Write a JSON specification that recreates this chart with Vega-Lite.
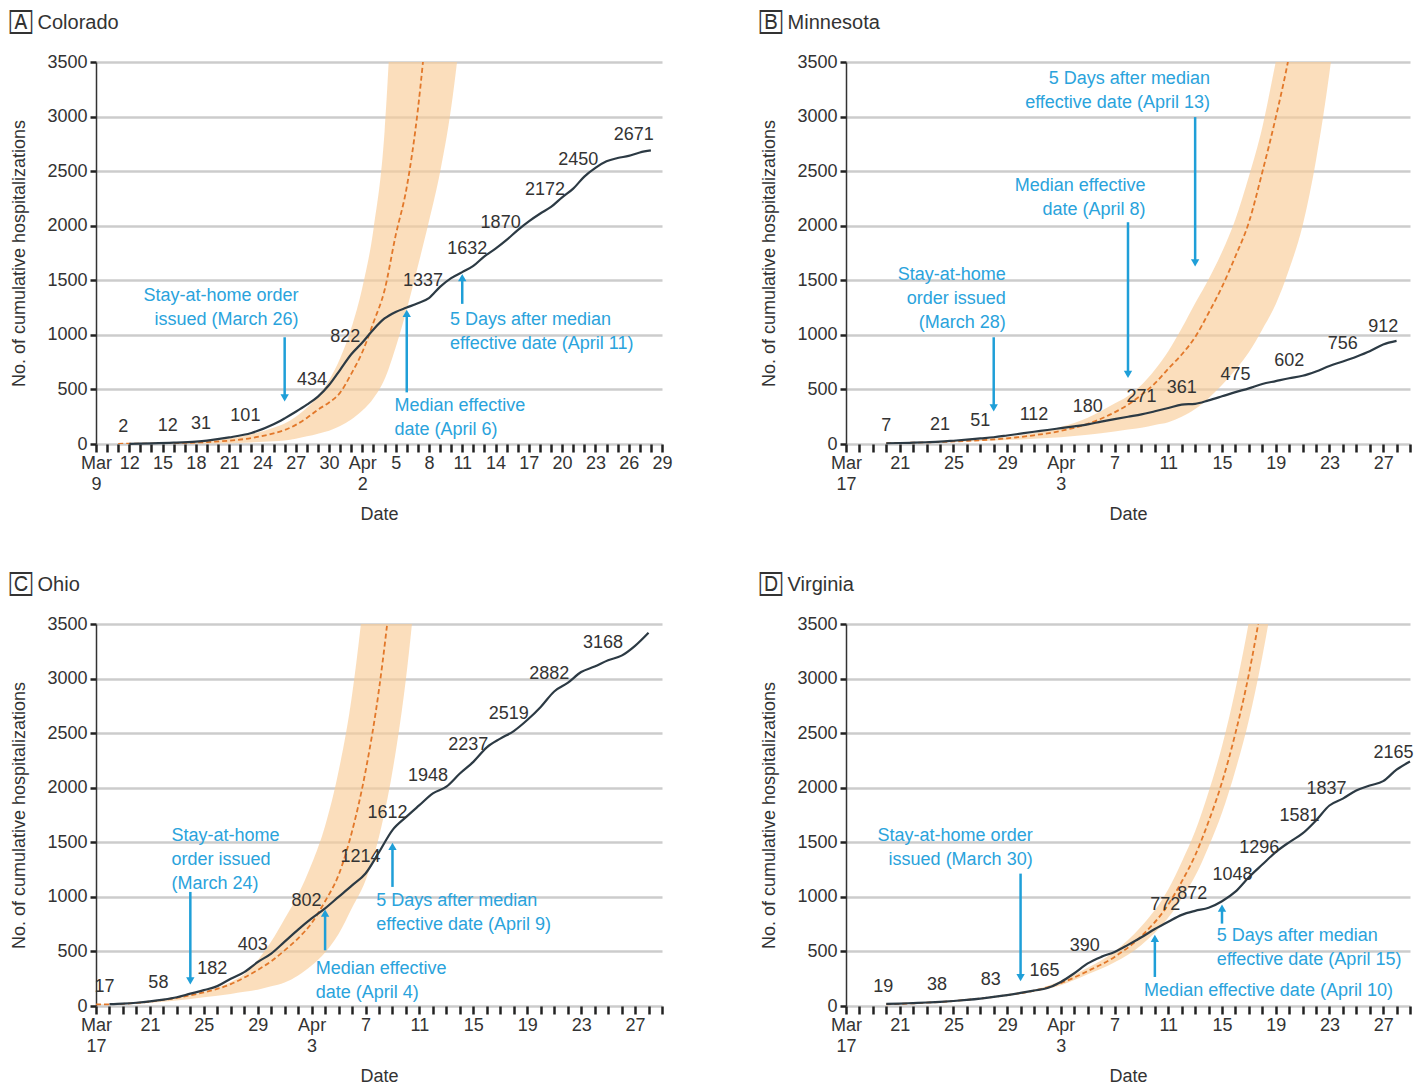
{
  "$schema": "https://vega.github.io/schema/vega-lite/v6.json",
  "background": "white",
  "padding": {"left": 10, "top": 13, "right": 5, "bottom": 5},
  "config": {
    "font": "Liberation Sans",
    "numberFormat": "d",
    "view": {"stroke": null},
    "axis": {"labelFontSize": 18, "titleFontSize": 18, "titleFontWeight": "normal", "labelColor": "#333333", "titleColor": "#333333"},
    "axisX": {"grid": false, "domain": false, "tickSize": 8, "tickWidth": 2.5, "tickColor": "#222222", "labelPadding": 2, "labelLineHeight": 21, "labelOverlap": false, "labelFlush": false, "labelBound": false, "titlePadding": 12},
    "axisY": {"tickCount": 8, "grid": true, "gridColor": "#cccccc", "gridWidth": 2.5, "domainColor": "#333333", "domainWidth": 1.5, "tickSize": 6, "tickWidth": 2.5, "tickColor": "#222222", "labelPadding": 3, "titlePadding": 18},
    "title": {"fontSize": 20, "fontWeight": "normal", "anchor": "start", "frame": "group", "dx": -86, "offset": 20, "color": "#333333"}
  },
  "datasets": {
    "observed": [
      {"state": "Colorado", "day": 3, "count": 2, "labeled": true},
      {"state": "Colorado", "day": 5, "count": 6, "labeled": false},
      {"state": "Colorado", "day": 7, "count": 12, "labeled": true},
      {"state": "Colorado", "day": 9, "count": 22, "labeled": false},
      {"state": "Colorado", "day": 10, "count": 31, "labeled": true},
      {"state": "Colorado", "day": 12, "count": 60, "labeled": false},
      {"state": "Colorado", "day": 14, "count": 101, "labeled": true},
      {"state": "Colorado", "day": 16, "count": 180, "labeled": false},
      {"state": "Colorado", "day": 17, "count": 235, "labeled": false},
      {"state": "Colorado", "day": 18, "count": 295, "labeled": false},
      {"state": "Colorado", "day": 19, "count": 360, "labeled": false},
      {"state": "Colorado", "day": 20, "count": 434, "labeled": true},
      {"state": "Colorado", "day": 21, "count": 540, "labeled": false},
      {"state": "Colorado", "day": 22, "count": 680, "labeled": false},
      {"state": "Colorado", "day": 23, "count": 822, "labeled": true},
      {"state": "Colorado", "day": 24, "count": 930, "labeled": false},
      {"state": "Colorado", "day": 25, "count": 1050, "labeled": false},
      {"state": "Colorado", "day": 26, "count": 1150, "labeled": false},
      {"state": "Colorado", "day": 27, "count": 1210, "labeled": false},
      {"state": "Colorado", "day": 28, "count": 1250, "labeled": false},
      {"state": "Colorado", "day": 29, "count": 1290, "labeled": false},
      {"state": "Colorado", "day": 30, "count": 1337, "labeled": true},
      {"state": "Colorado", "day": 31, "count": 1440, "labeled": false},
      {"state": "Colorado", "day": 32, "count": 1520, "labeled": false},
      {"state": "Colorado", "day": 33, "count": 1575, "labeled": false},
      {"state": "Colorado", "day": 34, "count": 1632, "labeled": true},
      {"state": "Colorado", "day": 35, "count": 1720, "labeled": false},
      {"state": "Colorado", "day": 36, "count": 1790, "labeled": false},
      {"state": "Colorado", "day": 37, "count": 1870, "labeled": true},
      {"state": "Colorado", "day": 38, "count": 1960, "labeled": false},
      {"state": "Colorado", "day": 39, "count": 2040, "labeled": false},
      {"state": "Colorado", "day": 40, "count": 2110, "labeled": false},
      {"state": "Colorado", "day": 41, "count": 2172, "labeled": true},
      {"state": "Colorado", "day": 42, "count": 2260, "labeled": false},
      {"state": "Colorado", "day": 43, "count": 2340, "labeled": false},
      {"state": "Colorado", "day": 44, "count": 2450, "labeled": true},
      {"state": "Colorado", "day": 45, "count": 2530, "labeled": false},
      {"state": "Colorado", "day": 46, "count": 2590, "labeled": false},
      {"state": "Colorado", "day": 47, "count": 2620, "labeled": false},
      {"state": "Colorado", "day": 48, "count": 2640, "labeled": false},
      {"state": "Colorado", "day": 49, "count": 2671, "labeled": true},
      {"state": "Colorado", "day": 50, "count": 2690, "labeled": false},

      {"state": "Minnesota", "day": 3, "count": 7, "labeled": true},
      {"state": "Minnesota", "day": 4, "count": 9, "labeled": false},
      {"state": "Minnesota", "day": 5, "count": 12, "labeled": false},
      {"state": "Minnesota", "day": 6, "count": 16, "labeled": false},
      {"state": "Minnesota", "day": 7, "count": 21, "labeled": true},
      {"state": "Minnesota", "day": 8, "count": 30, "labeled": false},
      {"state": "Minnesota", "day": 9, "count": 40, "labeled": false},
      {"state": "Minnesota", "day": 10, "count": 51, "labeled": true},
      {"state": "Minnesota", "day": 11, "count": 62, "labeled": false},
      {"state": "Minnesota", "day": 12, "count": 78, "labeled": false},
      {"state": "Minnesota", "day": 13, "count": 95, "labeled": false},
      {"state": "Minnesota", "day": 14, "count": 112, "labeled": true},
      {"state": "Minnesota", "day": 15, "count": 128, "labeled": false},
      {"state": "Minnesota", "day": 16, "count": 145, "labeled": false},
      {"state": "Minnesota", "day": 17, "count": 162, "labeled": false},
      {"state": "Minnesota", "day": 18, "count": 180, "labeled": true},
      {"state": "Minnesota", "day": 19, "count": 205, "labeled": false},
      {"state": "Minnesota", "day": 20, "count": 228, "labeled": false},
      {"state": "Minnesota", "day": 21, "count": 250, "labeled": false},
      {"state": "Minnesota", "day": 22, "count": 271, "labeled": true},
      {"state": "Minnesota", "day": 23, "count": 300, "labeled": false},
      {"state": "Minnesota", "day": 24, "count": 330, "labeled": false},
      {"state": "Minnesota", "day": 25, "count": 361, "labeled": true},
      {"state": "Minnesota", "day": 26, "count": 368, "labeled": false},
      {"state": "Minnesota", "day": 27, "count": 400, "labeled": false},
      {"state": "Minnesota", "day": 28, "count": 437, "labeled": false},
      {"state": "Minnesota", "day": 29, "count": 475, "labeled": true},
      {"state": "Minnesota", "day": 30, "count": 510, "labeled": false},
      {"state": "Minnesota", "day": 31, "count": 550, "labeled": false},
      {"state": "Minnesota", "day": 32, "count": 576, "labeled": false},
      {"state": "Minnesota", "day": 33, "count": 602, "labeled": true},
      {"state": "Minnesota", "day": 34, "count": 625, "labeled": false},
      {"state": "Minnesota", "day": 35, "count": 665, "labeled": false},
      {"state": "Minnesota", "day": 36, "count": 715, "labeled": false},
      {"state": "Minnesota", "day": 37, "count": 756, "labeled": true},
      {"state": "Minnesota", "day": 38, "count": 800, "labeled": false},
      {"state": "Minnesota", "day": 39, "count": 850, "labeled": false},
      {"state": "Minnesota", "day": 40, "count": 912, "labeled": true},
      {"state": "Minnesota", "day": 41, "count": 945, "labeled": false},

      {"state": "Ohio", "day": 1, "count": 17, "labeled": true},
      {"state": "Ohio", "day": 2, "count": 22, "labeled": false},
      {"state": "Ohio", "day": 3, "count": 30, "labeled": false},
      {"state": "Ohio", "day": 4, "count": 42, "labeled": false},
      {"state": "Ohio", "day": 5, "count": 58, "labeled": true},
      {"state": "Ohio", "day": 6, "count": 80, "labeled": false},
      {"state": "Ohio", "day": 7, "count": 113, "labeled": false},
      {"state": "Ohio", "day": 8, "count": 145, "labeled": false},
      {"state": "Ohio", "day": 9, "count": 182, "labeled": true},
      {"state": "Ohio", "day": 10, "count": 250, "labeled": false},
      {"state": "Ohio", "day": 11, "count": 310, "labeled": false},
      {"state": "Ohio", "day": 12, "count": 403, "labeled": true},
      {"state": "Ohio", "day": 13, "count": 480, "labeled": false},
      {"state": "Ohio", "day": 14, "count": 590, "labeled": false},
      {"state": "Ohio", "day": 15, "count": 700, "labeled": false},
      {"state": "Ohio", "day": 16, "count": 802, "labeled": true},
      {"state": "Ohio", "day": 17, "count": 895, "labeled": false},
      {"state": "Ohio", "day": 18, "count": 1000, "labeled": false},
      {"state": "Ohio", "day": 19, "count": 1105, "labeled": false},
      {"state": "Ohio", "day": 20, "count": 1214, "labeled": true},
      {"state": "Ohio", "day": 21, "count": 1410, "labeled": false},
      {"state": "Ohio", "day": 22, "count": 1612, "labeled": true},
      {"state": "Ohio", "day": 23, "count": 1730, "labeled": false},
      {"state": "Ohio", "day": 24, "count": 1840, "labeled": false},
      {"state": "Ohio", "day": 25, "count": 1948, "labeled": true},
      {"state": "Ohio", "day": 26, "count": 2010, "labeled": false},
      {"state": "Ohio", "day": 27, "count": 2130, "labeled": false},
      {"state": "Ohio", "day": 28, "count": 2237, "labeled": true},
      {"state": "Ohio", "day": 29, "count": 2370, "labeled": false},
      {"state": "Ohio", "day": 30, "count": 2450, "labeled": false},
      {"state": "Ohio", "day": 31, "count": 2519, "labeled": true},
      {"state": "Ohio", "day": 32, "count": 2620, "labeled": false},
      {"state": "Ohio", "day": 33, "count": 2740, "labeled": false},
      {"state": "Ohio", "day": 34, "count": 2882, "labeled": true},
      {"state": "Ohio", "day": 35, "count": 2960, "labeled": false},
      {"state": "Ohio", "day": 36, "count": 3060, "labeled": false},
      {"state": "Ohio", "day": 37, "count": 3110, "labeled": false},
      {"state": "Ohio", "day": 38, "count": 3168, "labeled": true},
      {"state": "Ohio", "day": 39, "count": 3210, "labeled": false},
      {"state": "Ohio", "day": 40, "count": 3300, "labeled": false},
      {"state": "Ohio", "day": 41, "count": 3420, "labeled": false},

      {"state": "Virginia", "day": 3, "count": 19, "labeled": true},
      {"state": "Virginia", "day": 4, "count": 22, "labeled": false},
      {"state": "Virginia", "day": 5, "count": 27, "labeled": false},
      {"state": "Virginia", "day": 6, "count": 32, "labeled": false},
      {"state": "Virginia", "day": 7, "count": 38, "labeled": true},
      {"state": "Virginia", "day": 8, "count": 46, "labeled": false},
      {"state": "Virginia", "day": 9, "count": 56, "labeled": false},
      {"state": "Virginia", "day": 10, "count": 68, "labeled": false},
      {"state": "Virginia", "day": 11, "count": 83, "labeled": true},
      {"state": "Virginia", "day": 12, "count": 100, "labeled": false},
      {"state": "Virginia", "day": 13, "count": 120, "labeled": false},
      {"state": "Virginia", "day": 14, "count": 142, "labeled": false},
      {"state": "Virginia", "day": 15, "count": 165, "labeled": true},
      {"state": "Virginia", "day": 16, "count": 220, "labeled": false},
      {"state": "Virginia", "day": 17, "count": 300, "labeled": false},
      {"state": "Virginia", "day": 18, "count": 390, "labeled": true},
      {"state": "Virginia", "day": 19, "count": 450, "labeled": false},
      {"state": "Virginia", "day": 20, "count": 495, "labeled": false},
      {"state": "Virginia", "day": 21, "count": 560, "labeled": false},
      {"state": "Virginia", "day": 22, "count": 630, "labeled": false},
      {"state": "Virginia", "day": 23, "count": 705, "labeled": false},
      {"state": "Virginia", "day": 24, "count": 772, "labeled": true},
      {"state": "Virginia", "day": 25, "count": 835, "labeled": false},
      {"state": "Virginia", "day": 26, "count": 872, "labeled": true},
      {"state": "Virginia", "day": 27, "count": 900, "labeled": false},
      {"state": "Virginia", "day": 28, "count": 960, "labeled": false},
      {"state": "Virginia", "day": 29, "count": 1048, "labeled": true},
      {"state": "Virginia", "day": 30, "count": 1180, "labeled": false},
      {"state": "Virginia", "day": 31, "count": 1296, "labeled": true},
      {"state": "Virginia", "day": 32, "count": 1410, "labeled": false},
      {"state": "Virginia", "day": 33, "count": 1500, "labeled": false},
      {"state": "Virginia", "day": 34, "count": 1581, "labeled": true},
      {"state": "Virginia", "day": 35, "count": 1700, "labeled": false},
      {"state": "Virginia", "day": 36, "count": 1837, "labeled": true},
      {"state": "Virginia", "day": 37, "count": 1900, "labeled": false},
      {"state": "Virginia", "day": 38, "count": 1975, "labeled": false},
      {"state": "Virginia", "day": 39, "count": 2020, "labeled": false},
      {"state": "Virginia", "day": 40, "count": 2060, "labeled": false},
      {"state": "Virginia", "day": 41, "count": 2165, "labeled": true},
      {"state": "Virginia", "day": 42, "count": 2240, "labeled": false}
    ],
    "projection": [
      {"state": "Colorado", "day": 2, "lo": 0, "mid": 2, "hi": 3},
      {"state": "Colorado", "day": 6, "lo": 1, "mid": 6, "hi": 9},
      {"state": "Colorado", "day": 10, "lo": 4, "mid": 18, "hi": 28},
      {"state": "Colorado", "day": 14, "lo": 14, "mid": 55, "hi": 90},
      {"state": "Colorado", "day": 16, "lo": 25, "mid": 98, "hi": 150},
      {"state": "Colorado", "day": 17, "lo": 33, "mid": 128, "hi": 187},
      {"state": "Colorado", "day": 18, "lo": 49, "mid": 175, "hi": 249},
      {"state": "Colorado", "day": 19, "lo": 70, "mid": 239, "hi": 331},
      {"state": "Colorado", "day": 20, "lo": 95, "mid": 315, "hi": 440},
      {"state": "Colorado", "day": 21, "lo": 122, "mid": 380, "hi": 585},
      {"state": "Colorado", "day": 22, "lo": 164, "mid": 471, "hi": 785},
      {"state": "Colorado", "day": 23, "lo": 224, "mid": 643, "hi": 1060},
      {"state": "Colorado", "day": 24, "lo": 306, "mid": 843, "hi": 1435},
      {"state": "Colorado", "day": 25, "lo": 419, "mid": 1113, "hi": 1965},
      {"state": "Colorado", "day": 26, "lo": 593, "mid": 1409, "hi": 2860},
      {"state": "Colorado", "day": 27, "lo": 885, "mid": 1911, "hi": 4870},
      {"state": "Colorado", "day": 28, "lo": 1232, "mid": 2353, "hi": 7500},
      {"state": "Colorado", "day": 29, "lo": 1628, "mid": 3061, "hi": 11000},
      {"state": "Colorado", "day": 30, "lo": 2040, "mid": 4096, "hi": 16000},
      {"state": "Colorado", "day": 31, "lo": 2490, "mid": 5400, "hi": 23000},
      {"state": "Colorado", "day": 32, "lo": 3080, "mid": 7000, "hi": 33000},
      {"state": "Colorado", "day": 33, "lo": 3930, "mid": 9200, "hi": 47000},
      {"state": "Colorado", "day": 34, "lo": 5000, "mid": 12000, "hi": 66000},

      {"state": "Minnesota", "day": 3, "lo": 6, "mid": 8, "hi": 9},
      {"state": "Minnesota", "day": 6, "lo": 12, "mid": 15, "hi": 17},
      {"state": "Minnesota", "day": 9, "lo": 22, "mid": 28, "hi": 33},
      {"state": "Minnesota", "day": 12, "lo": 36, "mid": 52, "hi": 64},
      {"state": "Minnesota", "day": 14, "lo": 48, "mid": 80, "hi": 100},
      {"state": "Minnesota", "day": 16, "lo": 62, "mid": 120, "hi": 155},
      {"state": "Minnesota", "day": 18, "lo": 85, "mid": 185, "hi": 240},
      {"state": "Minnesota", "day": 20, "lo": 115, "mid": 290, "hi": 370},
      {"state": "Minnesota", "day": 21, "lo": 132, "mid": 360, "hi": 440},
      {"state": "Minnesota", "day": 22, "lo": 150, "mid": 450, "hi": 540},
      {"state": "Minnesota", "day": 23, "lo": 175, "mid": 555, "hi": 680},
      {"state": "Minnesota", "day": 24, "lo": 200, "mid": 690, "hi": 850},
      {"state": "Minnesota", "day": 25, "lo": 250, "mid": 820, "hi": 1060},
      {"state": "Minnesota", "day": 26, "lo": 320, "mid": 980, "hi": 1290},
      {"state": "Minnesota", "day": 27, "lo": 420, "mid": 1200, "hi": 1510},
      {"state": "Minnesota", "day": 28, "lo": 540, "mid": 1440, "hi": 1760},
      {"state": "Minnesota", "day": 29, "lo": 680, "mid": 1720, "hi": 2060},
      {"state": "Minnesota", "day": 30, "lo": 840, "mid": 2030, "hi": 2450},
      {"state": "Minnesota", "day": 31, "lo": 1050, "mid": 2490, "hi": 2900},
      {"state": "Minnesota", "day": 32, "lo": 1280, "mid": 2990, "hi": 3500},
      {"state": "Minnesota", "day": 33, "lo": 1600, "mid": 3560, "hi": 4100},
      {"state": "Minnesota", "day": 34, "lo": 2000, "mid": 4300, "hi": 4900},
      {"state": "Minnesota", "day": 35, "lo": 2600, "mid": 5200, "hi": 5800},
      {"state": "Minnesota", "day": 36, "lo": 3400, "mid": 6300, "hi": 7000},
      {"state": "Minnesota", "day": 37, "lo": 4400, "mid": 7600, "hi": 8300},

      {"state": "Ohio", "day": 0, "lo": 10, "mid": 14, "hi": 15},
      {"state": "Ohio", "day": 2, "lo": 15, "mid": 20, "hi": 25},
      {"state": "Ohio", "day": 4, "lo": 30, "mid": 40, "hi": 45},
      {"state": "Ohio", "day": 6, "lo": 50, "mid": 75, "hi": 80},
      {"state": "Ohio", "day": 8, "lo": 80, "mid": 125, "hi": 130},
      {"state": "Ohio", "day": 10, "lo": 110, "mid": 200, "hi": 220},
      {"state": "Ohio", "day": 11, "lo": 130, "mid": 260, "hi": 290},
      {"state": "Ohio", "day": 12, "lo": 150, "mid": 330, "hi": 420},
      {"state": "Ohio", "day": 13, "lo": 180, "mid": 410, "hi": 590},
      {"state": "Ohio", "day": 14, "lo": 215, "mid": 510, "hi": 800},
      {"state": "Ohio", "day": 15, "lo": 280, "mid": 620, "hi": 1020},
      {"state": "Ohio", "day": 16, "lo": 370, "mid": 760, "hi": 1300},
      {"state": "Ohio", "day": 17, "lo": 490, "mid": 960, "hi": 1650},
      {"state": "Ohio", "day": 18, "lo": 660, "mid": 1200, "hi": 2150},
      {"state": "Ohio", "day": 19, "lo": 900, "mid": 1600, "hi": 2850},
      {"state": "Ohio", "day": 20, "lo": 1150, "mid": 2150, "hi": 3900},
      {"state": "Ohio", "day": 21, "lo": 1550, "mid": 2900, "hi": 5300},
      {"state": "Ohio", "day": 22, "lo": 2150, "mid": 3950, "hi": 7000},
      {"state": "Ohio", "day": 23, "lo": 3000, "mid": 5300, "hi": 9000},
      {"state": "Ohio", "day": 24, "lo": 4200, "mid": 7000, "hi": 12000},

      {"state": "Virginia", "day": 3, "lo": 15, "mid": 16, "hi": 17},
      {"state": "Virginia", "day": 6, "lo": 28, "mid": 30, "hi": 32},
      {"state": "Virginia", "day": 9, "lo": 52, "mid": 56, "hi": 60},
      {"state": "Virginia", "day": 12, "lo": 92, "mid": 100, "hi": 108},
      {"state": "Virginia", "day": 14, "lo": 130, "mid": 140, "hi": 150},
      {"state": "Virginia", "day": 16, "lo": 190, "mid": 210, "hi": 230},
      {"state": "Virginia", "day": 18, "lo": 290, "mid": 320, "hi": 350},
      {"state": "Virginia", "day": 20, "lo": 400, "mid": 450, "hi": 500},
      {"state": "Virginia", "day": 22, "lo": 560, "mid": 640, "hi": 730},
      {"state": "Virginia", "day": 24, "lo": 810, "mid": 930, "hi": 1070},
      {"state": "Virginia", "day": 25, "lo": 985, "mid": 1140, "hi": 1320},
      {"state": "Virginia", "day": 26, "lo": 1190, "mid": 1380, "hi": 1600},
      {"state": "Virginia", "day": 27, "lo": 1460, "mid": 1690, "hi": 1960},
      {"state": "Virginia", "day": 28, "lo": 1770, "mid": 2050, "hi": 2380},
      {"state": "Virginia", "day": 29, "lo": 2160, "mid": 2500, "hi": 2900},
      {"state": "Virginia", "day": 30, "lo": 2620, "mid": 3040, "hi": 3520},
      {"state": "Virginia", "day": 31, "lo": 3200, "mid": 3720, "hi": 4300},
      {"state": "Virginia", "day": 32, "lo": 3900, "mid": 4500, "hi": 5200}
    ],
    "arrows": [
      {"state": "Colorado", "day": 17, "start": 978, "head": 422, "dir": "down"},
      {"state": "Colorado", "day": 28, "start": 473, "head": 1197, "dir": "up"},
      {"state": "Colorado", "day": 33, "start": 1284, "head": 1524, "dir": "up"},
      {"state": "Minnesota", "day": 11, "start": 978, "head": 331, "dir": "down"},
      {"state": "Minnesota", "day": 21, "start": 2032, "head": 637, "dir": "down"},
      {"state": "Minnesota", "day": 26, "start": 2995, "head": 1660, "dir": "down"},
      {"state": "Ohio", "day": 7, "start": 1045, "head": 231, "dir": "down"},
      {"state": "Ohio", "day": 17, "start": 510, "head": 851, "dir": "up"},
      {"state": "Ohio", "day": 22, "start": 1091, "head": 1462, "dir": "up"},
      {"state": "Virginia", "day": 13, "start": 1213, "head": 261, "dir": "down"},
      {"state": "Virginia", "day": 23, "start": 266, "head": 620, "dir": "up"},
      {"state": "Virginia", "day": 28, "start": 755, "head": 897, "dir": "up"}
    ],
    "notes": [
      {"state": "Colorado", "day": 18.25, "count": 1309, "anchor": "end", "note": "Stay-at-home order\nissued (March 26)"},
      {"state": "Colorado", "day": 26.9, "count": 301, "anchor": "start", "note": "Median effective\ndate (April 6)"},
      {"state": "Colorado", "day": 31.9, "count": 1089, "anchor": "start", "note": "5 Days after median\neffective date (April 11)"},
      {"state": "Minnesota", "day": 11.9, "count": 1502, "anchor": "end", "note": "Stay-at-home\norder issued\n(March 28)"},
      {"state": "Minnesota", "day": 22.3, "count": 2318, "anchor": "end", "note": "Median effective\ndate (April 8)"},
      {"state": "Minnesota", "day": 27.1, "count": 3299, "anchor": "end", "note": "5 Days after median\neffective date (April 13)"},
      {"state": "Ohio", "day": 5.6, "count": 1514, "anchor": "start", "note": "Stay-at-home\norder issued\n(March 24)"},
      {"state": "Ohio", "day": 16.3, "count": 295, "anchor": "start", "note": "Median effective\ndate (April 4)"},
      {"state": "Ohio", "day": 20.8, "count": 918, "anchor": "start", "note": "5 Days after median\neffective date (April 9)"},
      {"state": "Virginia", "day": 13.9, "count": 1514, "anchor": "end", "note": "Stay-at-home order\nissued (March 30)"},
      {"state": "Virginia", "day": 22.2, "count": 93, "anchor": "start", "note": "Median effective date (April 10)"},
      {"state": "Virginia", "day": 27.6, "count": 597, "anchor": "start", "note": "5 Days after median\neffective date (April 15)"}
    ]
  },
  "columns": 2,
  "bounds": "flush",
  "spacing": {"row": 180, "column": 184},
  "resolve": {"scale": {"x": "independent", "y": "independent"}},
  "concat": [
    {
      "width": 566,
      "height": 382,
      "title": {"text": "\ud83c\udd30  Colorado"},
      "encoding": {
        "x": {
          "field": "day", "type": "quantitative",
          "scale": {"domain": [0, 51], "nice": false, "zero": false},
          "axis": {
            "title": "Date",
            "values": [0,1,2,3,4,5,6,7,8,9,10,11,12,13,14,15,16,17,18,19,20,21,22,23,24,25,26,27,28,29,30,31,32,33,34,35,36,37,38,39,40,41,42,43,44,45,46,47,48,49,50,51],
            "labelExpr": "datum.value % 3 ? '' : datum.value == 0 ? ['Mar', '9'] : datum.value == 24 ? ['Apr', '2'] : '' + (datum.value < 24 ? datum.value + 9 : datum.value - 22)"
          }
        }
      },
      "layer": [
        {"data": {"name": "projection"}, "transform": [{"filter": "datum.state === 'Colorado'"}],
         "mark": {"type": "area", "clip": true, "interpolate": "monotone", "color": "#f9cd98", "opacity": 0.65},
         "encoding": {"y": {"field": "hi", "type": "quantitative", "scale": {"domain": [0, 3500], "nice": false}, "title": "No. of cumulative hospitalizations"}, "y2": {"field": "lo"}}},
        {"data": {"name": "projection"}, "transform": [{"filter": "datum.state === 'Colorado'"}],
         "mark": {"type": "line", "clip": true, "interpolate": "monotone", "color": "#e2782a", "strokeWidth": 1.8, "strokeDash": [5, 3]},
         "encoding": {"y": {"field": "mid", "type": "quantitative", "title": "No. of cumulative hospitalizations"}}},
        {"data": {"name": "observed"}, "transform": [{"filter": "datum.state === 'Colorado'"}],
         "mark": {"type": "line", "interpolate": "monotone", "color": "#2c3a44", "strokeWidth": 2.2},
         "encoding": {"y": {"field": "count", "type": "quantitative", "title": "No. of cumulative hospitalizations"}}},
        {"data": {"name": "observed"}, "transform": [{"filter": "datum.state === 'Colorado' && datum.labeled"}],
         "mark": {"type": "text", "dx": -6, "dy": -17, "fontSize": 18, "color": "#333333"},
         "encoding": {"y": {"field": "count", "type": "quantitative", "title": "No. of cumulative hospitalizations"}, "text": {"field": "count", "type": "quantitative", "format": "d"}}},
        {"data": {"name": "arrows"}, "transform": [{"filter": "datum.state === 'Colorado'"}],
         "mark": {"type": "rule", "color": "#1f9fd8", "strokeWidth": 2.5},
         "encoding": {"y": {"field": "start", "type": "quantitative", "title": "No. of cumulative hospitalizations"}, "y2": {"field": "head"}}},
        {"data": {"name": "arrows"}, "transform": [{"filter": "datum.state === 'Colorado'"}],
         "mark": {"type": "point", "filled": true, "opacity": 1, "color": "#1f9fd8", "size": 70},
         "encoding": {"y": {"field": "head", "type": "quantitative", "title": "No. of cumulative hospitalizations"}, "shape": {"field": "dir", "type": "nominal", "scale": {"domain": ["down", "up"], "range": ["triangle-down", "triangle-up"]}, "legend": null}}},
        {"data": {"name": "notes"}, "transform": [{"filter": "datum.state === 'Colorado' && datum.anchor === 'start'"}],
         "mark": {"type": "text", "align": "left", "baseline": "alphabetic", "lineBreak": "\n", "lineHeight": 24, "fontSize": 18, "color": "#2aa3dc"},
         "encoding": {"y": {"field": "count", "type": "quantitative", "title": "No. of cumulative hospitalizations"}, "text": {"field": "note"}}},
        {"data": {"name": "notes"}, "transform": [{"filter": "datum.state === 'Colorado' && datum.anchor === 'end'"}],
         "mark": {"type": "text", "align": "right", "baseline": "alphabetic", "lineBreak": "\n", "lineHeight": 24, "fontSize": 18, "color": "#2aa3dc"},
         "encoding": {"y": {"field": "count", "type": "quantitative", "title": "No. of cumulative hospitalizations"}, "text": {"field": "note"}}}
      ]
    },
    {
      "width": 564,
      "height": 382,
      "title": {"text": "\ud83c\udd31  Minnesota"},
      "encoding": {
        "x": {
          "field": "day", "type": "quantitative",
          "scale": {"domain": [0, 42], "nice": false, "zero": false},
          "axis": {
            "title": "Date",
            "values": [0,1,2,3,4,5,6,7,8,9,10,11,12,13,14,15,16,17,18,19,20,21,22,23,24,25,26,27,28,29,30,31,32,33,34,35,36,37,38,39,40,41,42],
            "labelExpr": "datum.value % 4 ? '' : datum.value == 0 ? ['Mar', '17'] : datum.value == 16 ? ['Apr', '3'] : '' + (datum.value < 16 ? datum.value + 17 : datum.value - 13)"
          }
        }
      },
      "layer": [
        {"data": {"name": "projection"}, "transform": [{"filter": "datum.state === 'Minnesota'"}],
         "mark": {"type": "area", "clip": true, "interpolate": "monotone", "color": "#f9cd98", "opacity": 0.65},
         "encoding": {"y": {"field": "hi", "type": "quantitative", "scale": {"domain": [0, 3500], "nice": false}, "title": "No. of cumulative hospitalizations"}, "y2": {"field": "lo"}}},
        {"data": {"name": "projection"}, "transform": [{"filter": "datum.state === 'Minnesota'"}],
         "mark": {"type": "line", "clip": true, "interpolate": "monotone", "color": "#e2782a", "strokeWidth": 1.8, "strokeDash": [5, 3]},
         "encoding": {"y": {"field": "mid", "type": "quantitative", "title": "No. of cumulative hospitalizations"}}},
        {"data": {"name": "observed"}, "transform": [{"filter": "datum.state === 'Minnesota'"}],
         "mark": {"type": "line", "interpolate": "monotone", "color": "#2c3a44", "strokeWidth": 2.2},
         "encoding": {"y": {"field": "count", "type": "quantitative", "title": "No. of cumulative hospitalizations"}}},
        {"data": {"name": "observed"}, "transform": [{"filter": "datum.state === 'Minnesota' && datum.labeled"}],
         "mark": {"type": "text", "dx": 0, "dy": -17, "fontSize": 18, "color": "#333333"},
         "encoding": {"y": {"field": "count", "type": "quantitative", "title": "No. of cumulative hospitalizations"}, "text": {"field": "count", "type": "quantitative", "format": "d"}}},
        {"data": {"name": "arrows"}, "transform": [{"filter": "datum.state === 'Minnesota'"}],
         "mark": {"type": "rule", "color": "#1f9fd8", "strokeWidth": 2.5},
         "encoding": {"y": {"field": "start", "type": "quantitative", "title": "No. of cumulative hospitalizations"}, "y2": {"field": "head"}}},
        {"data": {"name": "arrows"}, "transform": [{"filter": "datum.state === 'Minnesota'"}],
         "mark": {"type": "point", "filled": true, "opacity": 1, "color": "#1f9fd8", "size": 70},
         "encoding": {"y": {"field": "head", "type": "quantitative", "title": "No. of cumulative hospitalizations"}, "shape": {"field": "dir", "type": "nominal", "scale": {"domain": ["down", "up"], "range": ["triangle-down", "triangle-up"]}, "legend": null}}},
        {"data": {"name": "notes"}, "transform": [{"filter": "datum.state === 'Minnesota' && datum.anchor === 'start'"}],
         "mark": {"type": "text", "align": "left", "baseline": "alphabetic", "lineBreak": "\n", "lineHeight": 24, "fontSize": 18, "color": "#2aa3dc"},
         "encoding": {"y": {"field": "count", "type": "quantitative", "title": "No. of cumulative hospitalizations"}, "text": {"field": "note"}}},
        {"data": {"name": "notes"}, "transform": [{"filter": "datum.state === 'Minnesota' && datum.anchor === 'end'"}],
         "mark": {"type": "text", "align": "right", "baseline": "alphabetic", "lineBreak": "\n", "lineHeight": 24, "fontSize": 18, "color": "#2aa3dc"},
         "encoding": {"y": {"field": "count", "type": "quantitative", "title": "No. of cumulative hospitalizations"}, "text": {"field": "note"}}}
      ]
    },
    {
      "width": 566,
      "height": 382,
      "title": {"text": "\ud83c\udd32  Ohio"},
      "encoding": {
        "x": {
          "field": "day", "type": "quantitative",
          "scale": {"domain": [0, 42], "nice": false, "zero": false},
          "axis": {
            "title": "Date",
            "values": [0,1,2,3,4,5,6,7,8,9,10,11,12,13,14,15,16,17,18,19,20,21,22,23,24,25,26,27,28,29,30,31,32,33,34,35,36,37,38,39,40,41,42],
            "labelExpr": "datum.value % 4 ? '' : datum.value == 0 ? ['Mar', '17'] : datum.value == 16 ? ['Apr', '3'] : '' + (datum.value < 16 ? datum.value + 17 : datum.value - 13)"
          }
        }
      },
      "layer": [
        {"data": {"name": "projection"}, "transform": [{"filter": "datum.state === 'Ohio'"}],
         "mark": {"type": "area", "clip": true, "interpolate": "monotone", "color": "#f9cd98", "opacity": 0.65},
         "encoding": {"y": {"field": "hi", "type": "quantitative", "scale": {"domain": [0, 3500], "nice": false}, "title": "No. of cumulative hospitalizations"}, "y2": {"field": "lo"}}},
        {"data": {"name": "projection"}, "transform": [{"filter": "datum.state === 'Ohio'"}],
         "mark": {"type": "line", "clip": true, "interpolate": "monotone", "color": "#e2782a", "strokeWidth": 1.8, "strokeDash": [5, 3]},
         "encoding": {"y": {"field": "mid", "type": "quantitative", "title": "No. of cumulative hospitalizations"}}},
        {"data": {"name": "observed"}, "transform": [{"filter": "datum.state === 'Ohio'"}],
         "mark": {"type": "line", "interpolate": "monotone", "color": "#2c3a44", "strokeWidth": 2.2},
         "encoding": {"y": {"field": "count", "type": "quantitative", "title": "No. of cumulative hospitalizations"}}},
        {"data": {"name": "observed"}, "transform": [{"filter": "datum.state === 'Ohio' && datum.labeled"}],
         "mark": {"type": "text", "dx": -5, "dy": -17, "fontSize": 18, "color": "#333333"},
         "encoding": {"y": {"field": "count", "type": "quantitative", "title": "No. of cumulative hospitalizations"}, "text": {"field": "count", "type": "quantitative", "format": "d"}}},
        {"data": {"name": "arrows"}, "transform": [{"filter": "datum.state === 'Ohio'"}],
         "mark": {"type": "rule", "color": "#1f9fd8", "strokeWidth": 2.5},
         "encoding": {"y": {"field": "start", "type": "quantitative", "title": "No. of cumulative hospitalizations"}, "y2": {"field": "head"}}},
        {"data": {"name": "arrows"}, "transform": [{"filter": "datum.state === 'Ohio'"}],
         "mark": {"type": "point", "filled": true, "opacity": 1, "color": "#1f9fd8", "size": 70},
         "encoding": {"y": {"field": "head", "type": "quantitative", "title": "No. of cumulative hospitalizations"}, "shape": {"field": "dir", "type": "nominal", "scale": {"domain": ["down", "up"], "range": ["triangle-down", "triangle-up"]}, "legend": null}}},
        {"data": {"name": "notes"}, "transform": [{"filter": "datum.state === 'Ohio' && datum.anchor === 'start'"}],
         "mark": {"type": "text", "align": "left", "baseline": "alphabetic", "lineBreak": "\n", "lineHeight": 24, "fontSize": 18, "color": "#2aa3dc"},
         "encoding": {"y": {"field": "count", "type": "quantitative", "title": "No. of cumulative hospitalizations"}, "text": {"field": "note"}}},
        {"data": {"name": "notes"}, "transform": [{"filter": "datum.state === 'Ohio' && datum.anchor === 'end'"}],
         "mark": {"type": "text", "align": "right", "baseline": "alphabetic", "lineBreak": "\n", "lineHeight": 24, "fontSize": 18, "color": "#2aa3dc"},
         "encoding": {"y": {"field": "count", "type": "quantitative", "title": "No. of cumulative hospitalizations"}, "text": {"field": "note"}}}
      ]
    },
    {
      "width": 564,
      "height": 382,
      "title": {"text": "\ud83c\udd33  Virginia"},
      "encoding": {
        "x": {
          "field": "day", "type": "quantitative",
          "scale": {"domain": [0, 42], "nice": false, "zero": false},
          "axis": {
            "title": "Date",
            "values": [0,1,2,3,4,5,6,7,8,9,10,11,12,13,14,15,16,17,18,19,20,21,22,23,24,25,26,27,28,29,30,31,32,33,34,35,36,37,38,39,40,41,42],
            "labelExpr": "datum.value % 4 ? '' : datum.value == 0 ? ['Mar', '17'] : datum.value == 16 ? ['Apr', '3'] : '' + (datum.value < 16 ? datum.value + 17 : datum.value - 13)"
          }
        }
      },
      "layer": [
        {"data": {"name": "projection"}, "transform": [{"filter": "datum.state === 'Virginia'"}],
         "mark": {"type": "area", "clip": true, "interpolate": "monotone", "color": "#f9cd98", "opacity": 0.65},
         "encoding": {"y": {"field": "hi", "type": "quantitative", "scale": {"domain": [0, 3500], "nice": false}, "title": "No. of cumulative hospitalizations"}, "y2": {"field": "lo"}}},
        {"data": {"name": "projection"}, "transform": [{"filter": "datum.state === 'Virginia'"}],
         "mark": {"type": "line", "clip": true, "interpolate": "monotone", "color": "#e2782a", "strokeWidth": 1.8, "strokeDash": [5, 3]},
         "encoding": {"y": {"field": "mid", "type": "quantitative", "title": "No. of cumulative hospitalizations"}}},
        {"data": {"name": "observed"}, "transform": [{"filter": "datum.state === 'Virginia'"}],
         "mark": {"type": "line", "interpolate": "monotone", "color": "#2c3a44", "strokeWidth": 2.2},
         "encoding": {"y": {"field": "count", "type": "quantitative", "title": "No. of cumulative hospitalizations"}}},
        {"data": {"name": "observed"}, "transform": [{"filter": "datum.state === 'Virginia' && datum.labeled"}],
         "mark": {"type": "text", "dx": -3, "dy": -17, "fontSize": 18, "color": "#333333"},
         "encoding": {"y": {"field": "count", "type": "quantitative", "title": "No. of cumulative hospitalizations"}, "text": {"field": "count", "type": "quantitative", "format": "d"}}},
        {"data": {"name": "arrows"}, "transform": [{"filter": "datum.state === 'Virginia'"}],
         "mark": {"type": "rule", "color": "#1f9fd8", "strokeWidth": 2.5},
         "encoding": {"y": {"field": "start", "type": "quantitative", "title": "No. of cumulative hospitalizations"}, "y2": {"field": "head"}}},
        {"data": {"name": "arrows"}, "transform": [{"filter": "datum.state === 'Virginia'"}],
         "mark": {"type": "point", "filled": true, "opacity": 1, "color": "#1f9fd8", "size": 70},
         "encoding": {"y": {"field": "head", "type": "quantitative", "title": "No. of cumulative hospitalizations"}, "shape": {"field": "dir", "type": "nominal", "scale": {"domain": ["down", "up"], "range": ["triangle-down", "triangle-up"]}, "legend": null}}},
        {"data": {"name": "notes"}, "transform": [{"filter": "datum.state === 'Virginia' && datum.anchor === 'start'"}],
         "mark": {"type": "text", "align": "left", "baseline": "alphabetic", "lineBreak": "\n", "lineHeight": 24, "fontSize": 18, "color": "#2aa3dc"},
         "encoding": {"y": {"field": "count", "type": "quantitative", "title": "No. of cumulative hospitalizations"}, "text": {"field": "note"}}},
        {"data": {"name": "notes"}, "transform": [{"filter": "datum.state === 'Virginia' && datum.anchor === 'end'"}],
         "mark": {"type": "text", "align": "right", "baseline": "alphabetic", "lineBreak": "\n", "lineHeight": 24, "fontSize": 18, "color": "#2aa3dc"},
         "encoding": {"y": {"field": "count", "type": "quantitative", "title": "No. of cumulative hospitalizations"}, "text": {"field": "note"}}}
      ]
    }
  ]
}
